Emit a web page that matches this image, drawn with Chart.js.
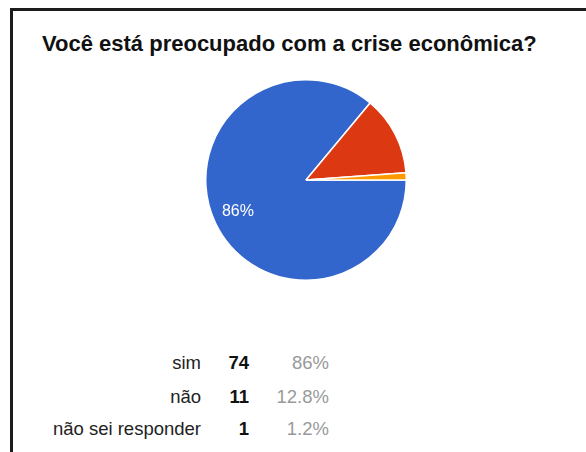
<!DOCTYPE html>
<html>
<head>
<meta charset="utf-8">
<script src="https://cdn.jsdelivr.net/npm/chart.js"></script>
<style>
  html, body { margin: 0; padding: 0; background: #fff; }
  body { width: 586px; height: 452px; position: relative; overflow: hidden;
         font-family: "Liberation Sans", Arial, sans-serif; }
  #frame { position: absolute; left: 10px; top: 8px; right: 0; bottom: 0;
           border-top: 3px solid #1c1c1c; border-left: 3px solid #1c1c1c; }
  #title { position: absolute; left: 42px; top: 31px; font-size: 22px; font-weight: bold;
           color: #111; white-space: nowrap; }
  #pieBox { position: absolute; left: 205px; top: 79px; width: 202px; height: 202px; }
  .row { position: absolute; left: 0; height: 22px; font-size: 18.5px; line-height: 22px; white-space: nowrap; }
  .row span { position: absolute; top: 0; text-align: right; }
  .lbl { left: 0; width: 201px; color: #222; }
  .cnt { left: 200px; width: 49px; color: #111; font-weight: bold; }
  .pct { left: 250px; width: 79px; color: #999; }
</style>
</head>
<body>
<div id="frame"></div>
<div id="title">Você está preocupado com a crise econômica?</div>
<div id="pieBox"><canvas id="myChart"></canvas></div>
<div id="table"></div>
<script>
    // respostas e contagens
    var answers = ['sim', 'não', 'não sei responder'];
    var counts = [74, 11, 1];
    var sliceColors = ['#3366cc', '#dc3912', '#ff9900'];

    var total = counts.reduce(function (a, b) { return a + b; }, 0);
    function pctText(v) {
        return parseFloat((v / total * 100).toFixed(1)) + '%';
    }

    // texto percentual dentro das fatias grandes
    var sliceLabels = {
        id: 'sliceLabels',
        afterDatasetsDraw: function (chart) {
            var ctx = chart.ctx;
            var meta = chart.getDatasetMeta(0);
            ctx.save();
            ctx.font = '16px "Liberation Sans", Arial, sans-serif';
            ctx.fillStyle = '#fff';
            ctx.textAlign = 'center';
            ctx.textBaseline = 'middle';
            meta.data.forEach(function (arc, i) {
                var v = counts[i];
                if (v / total < 0.2) return;
                var mid = (arc.startAngle + arc.endAngle) / 2;
                var r = arc.outerRadius * 0.75;
                ctx.fillText(pctText(v), arc.x + Math.cos(mid) * r, arc.y + Math.sin(mid) * r);
            });
            ctx.restore();
        }
    };

    var ctx = document.getElementById('myChart').getContext('2d');
    window.myChart = new Chart(ctx, {
        type: 'pie',
        data: {
            labels: answers,
            datasets: [{
                data: counts,
                backgroundColor: sliceColors,
                borderColor: '#fff',
                borderWidth: 1.5
            }]
        },
        options: {
            rotation: 90,
            animation: false,
            responsive: true,
            maintainAspectRatio: false,
            layout: { padding: 0 },
            plugins: {
                legend: { display: false },
                tooltip: { enabled: false }
            }
        },
        plugins: [sliceLabels]
    });

    // tabela de resumo abaixo do gráfico
    var table = document.getElementById('table');
    var rowTops = [352, 386, 418];
    answers.forEach(function (a, i) {
        var row = document.createElement('div');
        row.className = 'row';
        row.style.top = rowTops[i] + 'px';
        row.innerHTML = '<span class="lbl">' + a + '</span>' +
            '<span class="cnt">' + counts[i] + '</span>' +
            '<span class="pct">' + pctText(counts[i]) + '</span>';
        table.appendChild(row);
    });
</script>
</body>
</html>
